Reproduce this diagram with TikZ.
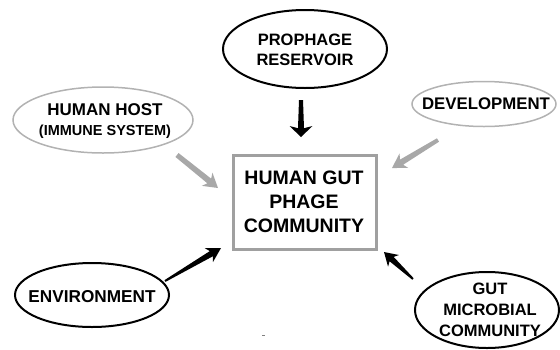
\documentclass[tikz,border=0pt]{standalone}
\usepackage{fontspec}
\setmainfont{Liberation Sans}
\usetikzlibrary{calc,shapes.geometric}
\definecolor{lightrim}{HTML}{B2B2B2}
\definecolor{arrowgray}{HTML}{A8A8A8}
\definecolor{boxrim}{HTML}{A0A0A0}
% #1 colour, #2 start, #3 tip, #4 half width at start, #5 half width at head, #6 head length, #7 head half width
\newcommand{\taparrow}[7]{%
  \path ($(#3)!#6!(#2)$) coordinate (hb) ($(#3)!0.8*#6!(#2)$) coordinate (hn);
  \fill[#1] ($(#2)!#4!90:(#3)$) -- ($(hn)!#5!90:(#3)$) -- ($(hb)!#7!90:(#3)$) -- (#3)
    -- ($(hb)!#7!-90:(#3)$) -- ($(hn)!#5!-90:(#3)$) -- ($(#2)!#4!-90:(#3)$) -- cycle;}
\tikzset{
  darkoval/.style={draw=black, line width=2pt, ellipse, inner sep=0pt},
  lightoval/.style={draw=lightrim, line width=1.5pt, ellipse, inner sep=0pt},
  lbl/.style={align=center, inner sep=0pt, font=\bfseries},
  centerbox/.style={draw=boxrim, line width=3pt, rectangle, inner sep=0pt, fill=white}
}
\begin{document}
\begin{tikzpicture}[x=1pt,y=-1pt]
\useasboundingbox (0,0) rectangle (560,349);
% ovals
\node[darkoval, minimum width=164pt, minimum height=78pt] (proph) at (305,49) {};
\node[lbl, font=\bfseries\fontsize{16.5}{20}\selectfont] (prophtxt) at (305,50) {PROPHAGE\\RESERVOIR};
\node[lightoval, minimum width=180pt, minimum height=66pt] (host) at (103,120) {};
\node[lbl, font=\bfseries\fontsize{17}{19}\selectfont] (hosttxt) at (105,121) {HUMAN HOST\\[1pt]{\fontsize{14.5}{19}\selectfont (IMMUNE SYSTEM)}};
\node[lightoval, minimum width=144pt, minimum height=45pt] (dev) at (484,104) {};
\node[lbl, font=\bfseries\fontsize{16.8}{20}\selectfont] (devtxt) at (486,104) {DEVELOPMENT};
\node[darkoval, minimum width=154pt, minimum height=64pt] (env) at (92,295) {};
\node[lbl, font=\bfseries\fontsize{17.2}{20}\selectfont] (envtxt) at (92,297) {ENVIRONMENT};
\node[darkoval, minimum width=144pt, minimum height=76pt] (micro) at (487,310) {};
\node[lbl, font=\bfseries\fontsize{16.5}{21}\selectfont] (microtxt) at (490,310) {GUT\\MICROBIAL\\COMMUNITY};
% centre box
\node[centerbox, minimum width=143pt, minimum height=94pt] (gut) at (304.5,202) {};
\node[lbl, font=\bfseries\fontsize{19.5}{24}\selectfont] (guttxt) at (304,202) {HUMAN GUT\\PHAGE\\COMMUNITY};
% arrow end points
\coordinate (pa) at (301,100); \coordinate (pb) at (301,137);
\coordinate (ha) at (177,155); \coordinate (hb2) at (218,188);
\coordinate (da) at (438,140); \coordinate (db) at (392,168);
\coordinate (ea) at (165,281); \coordinate (eb) at (221,248);
\coordinate (ma) at (413,279); \coordinate (mb) at (384,252);
\taparrow{black}{pa}{pb}{2pt}{3pt}{11pt}{11.5pt}
\taparrow{arrowgray}{ha}{hb2}{2.5pt}{3pt}{14pt}{8.5pt}
\taparrow{arrowgray}{da}{db}{2pt}{3pt}{14pt}{8.5pt}
\taparrow{black}{ea}{eb}{1pt}{3pt}{14pt}{8pt}
\taparrow{black}{ma}{mb}{1pt}{3pt}{13pt}{8pt}
% small mark
\fill[gray] (261.5,334.5) rectangle (264.5,335.5);
\end{tikzpicture}
\end{document}
